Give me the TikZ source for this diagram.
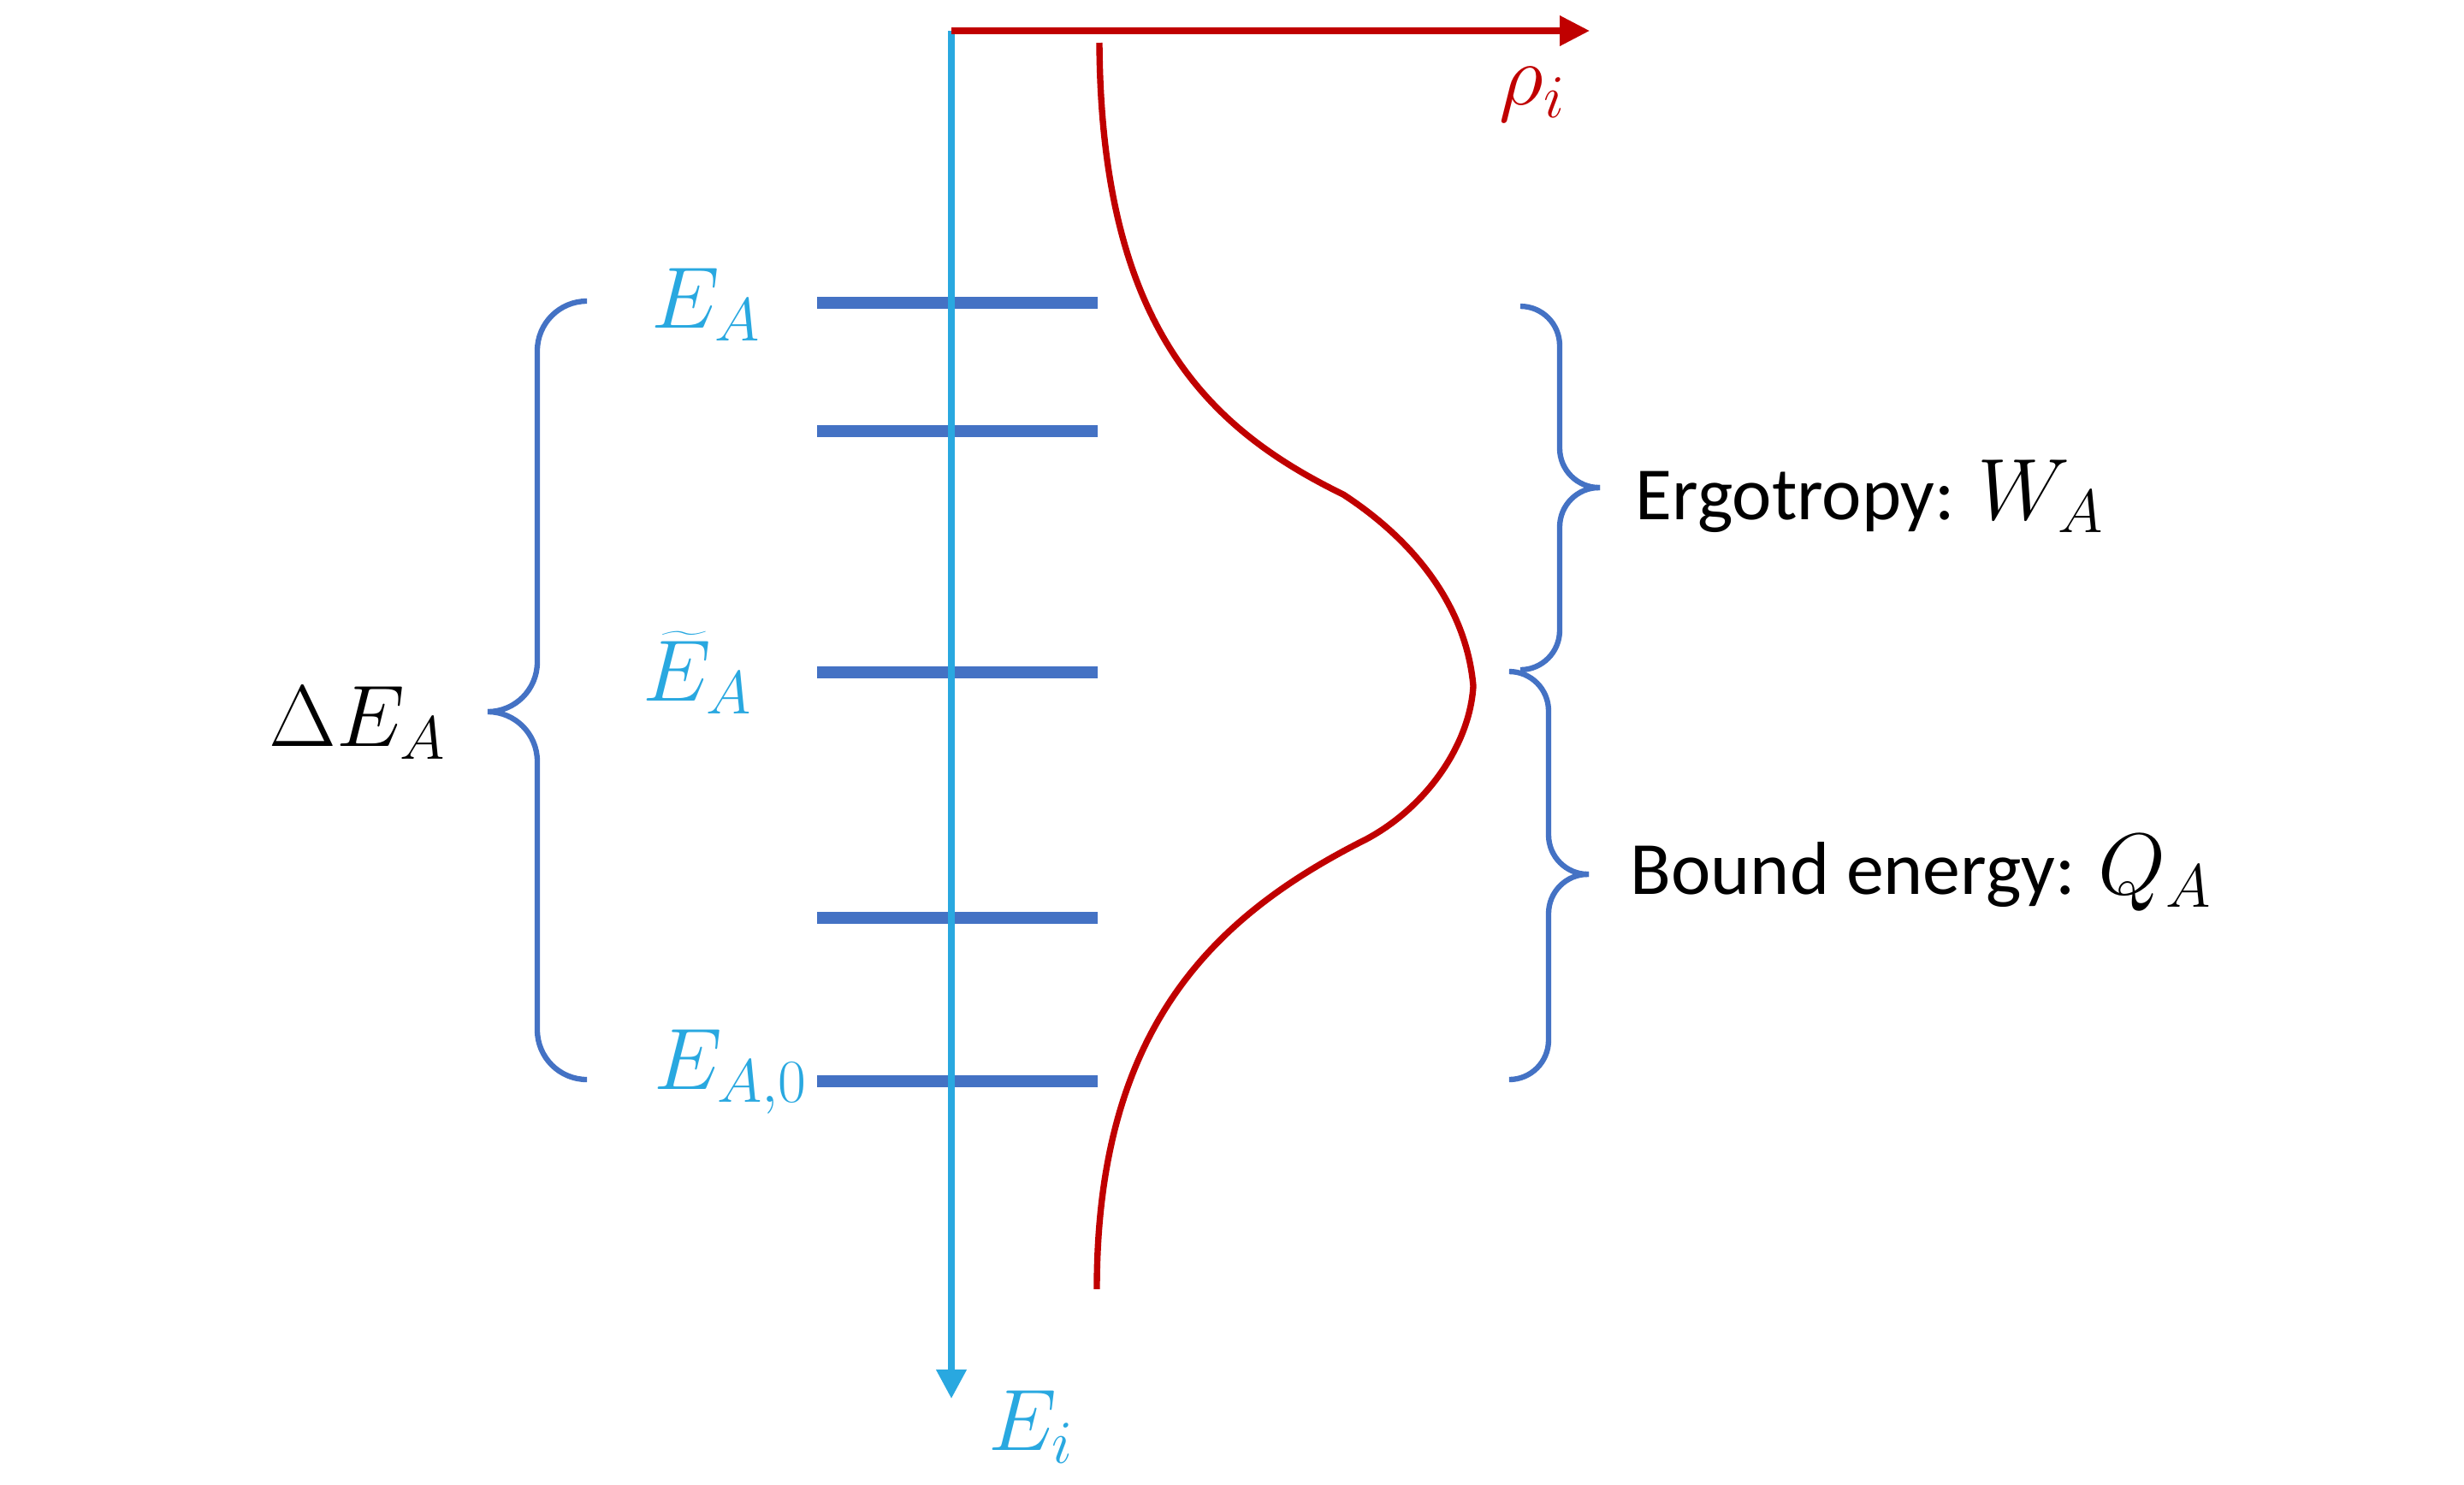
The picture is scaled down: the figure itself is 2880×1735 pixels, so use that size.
\documentclass[tikz,border=0pt]{standalone}
\usepackage{fix-cm}
\usepackage{fontspec}
\newfontfamily\calibri{Carlito}
\usetikzlibrary{arrows.meta}

\definecolor{axcyan}{RGB}{41,168,224}
\definecolor{lvblue}{RGB}{68,114,196}
\definecolor{rhored}{RGB}{192,0,0}

\newcommand\bigmath[1]{{\fontsize{29}{34}\selectfont$#1$}}

\begin{document}
\begin{tikzpicture}[
  x=0.1mm, y=-0.1mm,
  mlabel/.style={inner sep=0pt, anchor=base west, font=\fontsize{29}{34}\selectfont},
  tlabel/.style={inner sep=0pt, anchor=base west, font=\calibri\fontsize{25}{30}\selectfont},
  level/.style={draw=lvblue, line width=4.1pt},
  eaxis/.style={draw=axcyan, line width=2.1pt, -{Triangle[length=3.4mm, width=3.4mm]}},
  raxis/.style={draw=rhored, line width=2pt, -{Triangle[length=3.5mm, width=3.4mm]}},
  dist/.style={draw=rhored, line width=2.1pt},
  brace/.style={draw=lvblue, line width=1.8pt, rounded corners=5.8mm}]

  \useasboundingbox (0,0) rectangle (2880,1735);

  % energy levels
  \foreach \y [count=\k] in {354,504,786,1073,1264}
    \draw[level] (955,\y) coordinate (lv\k) -- (1283,\y);

  % axes
  \coordinate (origin) at (1112,36);
  \coordinate (etip) at (1112,1635);
  \coordinate (rtip) at (1858,36);
  \draw[eaxis] (origin) -- (etip);
  \draw[raxis] (origin) -- (rtip);
  \node[mlabel, text=axcyan] (ei) at (1155,1695) {$E_i$};
  \node[mlabel, text=rhored] (rho) at (1752,122) {$\rho_i$};

  % level labels
  \node[mlabel, anchor=base east, text=axcyan] (ea) at (890,383) {$E_A$};
  \node[mlabel, anchor=base east, text=axcyan] (eat) at (880,819) {$\widetilde{E}_A$};
  \node[mlabel, anchor=base east, text=axcyan] (ea0) at (945,1273) {$E_{A,0}$};

  % population
  \coordinate (ptop) at (1285,50);
  \coordinate (pk1) at (1570,578);
  \coordinate (ppeak) at (1722,802);
  \coordinate (pk2) at (1597,981);
  \coordinate (pbot) at (1282,1507);
  \draw[dist] (ptop) .. controls (1287,380) and (1410,500) .. (pk1)
    .. controls (1665,640) and (1715,720) .. (ppeak)
    .. controls (1718,870) and (1668,943) .. (pk2)
    .. controls (1420,1070) and (1282,1200) .. (pbot);

  % braces
  \draw[brace] (686,352) -- (628,352) -- (628,832) -- (570,832);
  \draw[brace] (570,832) -- (628,832) -- (628,1262) -- (686,1262);
  \node[mlabel, anchor=base east] (dea) at (522,872) {$\Delta E_A$};

  \draw[brace, rounded corners=4.6mm] (1777,358) -- (1823,358) -- (1823,570) -- (1870,570);
  \draw[brace, rounded corners=4.6mm] (1870,570) -- (1823,570) -- (1823,783) -- (1777,783);
  \node[tlabel] (ergo) at (1911,607) {Ergotropy: \bigmath{W_A}};

  \draw[brace, rounded corners=4.6mm] (1765,785) -- (1810,785) -- (1810,1022) -- (1857,1022);
  \draw[brace, rounded corners=4.6mm] (1857,1022) -- (1810,1022) -- (1810,1262) -- (1765,1262);
  \node[tlabel] (bound) at (1905,1045) {Bound energy: \bigmath{Q_A}};
\end{tikzpicture}
\end{document}
